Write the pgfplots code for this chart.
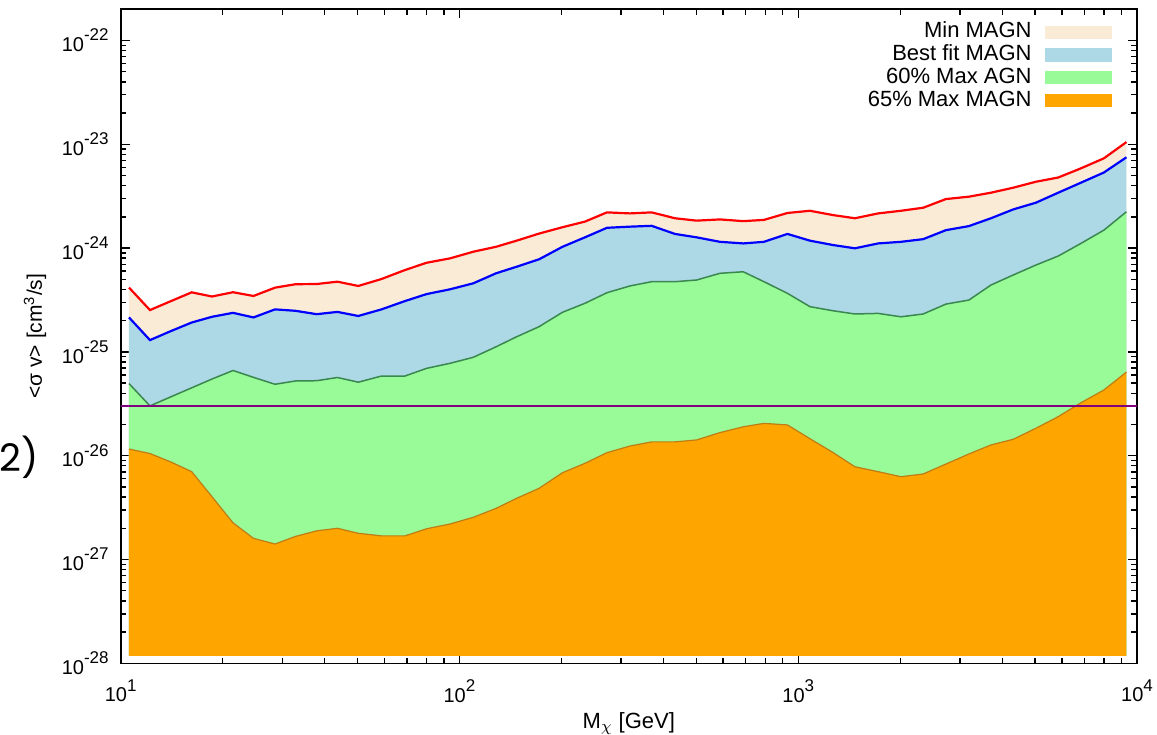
\documentclass[border=0pt]{standalone}
\usepackage{fontspec}
\setmainfont{Liberation Sans}
\newfontfamily\panelfont{Poppins}
\usepackage{pgfplots}
\pgfplotsset{compat=1.18}
\usepackage{pgfplotstable}

\definecolor{minfill}{RGB}{250,235,215}
\definecolor{bestfill}{RGB}{173,216,230}
\definecolor{sixtyfill}{RGB}{152,251,152}
\definecolor{sixtyfivefill}{RGB}{255,165,0}
\definecolor{sixtyedge}{RGB}{58,135,80}
\definecolor{sixtyfiveedge}{RGB}{190,125,20}
\definecolor{thermal}{RGB}{128,0,128}

% power-of-ten tick labels with a large raised exponent
\newcommand\decade[1]{10\raisebox{5.4pt}{\fontsize{8.5}{9}\selectfont #1}}

% upper edges of the four exclusion bands, <sigma v> in cm^3/s versus M_chi in GeV;
% first and last rows close each band on its floor
\pgfplotstableread{
m      red      blue     green    orange
10.58  1.18e-28 1.18e-28 1.18e-28 1.18e-28
10.58  4.17e-25 2.15e-25 4.96e-26 1.16e-26
12.20  2.53e-25 1.30e-25 3.02e-26 1.05e-26
14.08  3.09e-25 1.59e-25 3.70e-26 8.69e-27
16.20  3.75e-25 1.92e-25 4.51e-26 7.02e-27
18.60  3.42e-25 2.18e-25 5.48e-26 4.03e-27
21.45  3.76e-25 2.38e-25 6.62e-26 2.26e-27
24.66  3.46e-25 2.15e-25 5.69e-26 1.60e-27
28.54  4.16e-25 2.57e-25 4.88e-26 1.41e-27
32.81  4.49e-25 2.49e-25 5.25e-26 1.67e-27
37.88  4.51e-25 2.31e-25 5.28e-26 1.89e-27
43.63  4.75e-25 2.43e-25 5.67e-26 2.00e-27
50.27  4.32e-25 2.22e-25 5.11e-26 1.79e-27
58.86  5.04e-25 2.57e-25 5.86e-26 1.69e-27
69.03  6.15e-25 3.09e-25 5.86e-26 1.69e-27
80.01  7.23e-25 3.61e-25 6.95e-26 1.98e-27
93.76  7.97e-25 4.01e-25 7.77e-26 2.20e-27
109.8  9.23e-25 4.58e-25 8.87e-26 2.55e-27
128.2  1.03e-24 5.72e-25 1.12e-25 3.11e-27
147.5  1.18e-24 6.62e-25 1.40e-25 3.89e-27
171.7  1.38e-24 7.80e-25 1.75e-25 4.85e-27
201.4  1.59e-24 1.03e-24 2.41e-25 6.86e-27
234.6  1.80e-24 1.27e-24 2.94e-25 8.45e-27
272.5  2.21e-24 1.57e-24 3.72e-25 1.07e-26
318.6  2.16e-24 1.61e-24 4.32e-25 1.24e-26
369.3  2.21e-24 1.64e-24 4.75e-25 1.36e-26
432.6  1.94e-24 1.37e-24 4.75e-25 1.36e-26
501.3  1.84e-24 1.27e-24 4.93e-25 1.42e-26
587.4  1.89e-24 1.15e-24 5.72e-25 1.67e-26
688.2  1.82e-24 1.11e-24 5.92e-25 1.90e-26
792.0  1.87e-24 1.15e-24 4.75e-25 2.05e-26
929.2  2.18e-24 1.37e-24 3.67e-25 1.98e-26
1082.6 2.29e-24 1.18e-24 2.73e-25 1.46e-26
1268.5 2.08e-24 1.07e-24 2.49e-25 1.07e-26
1470   1.94e-24 9.96e-25 2.32e-25 7.83e-27
1722   2.16e-24 1.11e-24 2.35e-25 7.02e-27
2010   2.29e-24 1.15e-24 2.18e-25 6.28e-27
2338   2.45e-24 1.22e-24 2.32e-25 6.67e-27
2729   2.97e-24 1.49e-24 2.89e-25 8.32e-27
3190   3.13e-24 1.63e-24 3.16e-25 1.04e-26
3706   3.42e-24 1.94e-24 4.41e-25 1.27e-26
4311   3.82e-24 2.36e-24 5.51e-25 1.44e-26
5030   4.36e-24 2.74e-24 6.87e-25 1.84e-26
5854   4.79e-24 3.42e-24 8.39e-25 2.38e-26
6831   5.87e-24 4.27e-24 1.11e-24 3.24e-26
7985   7.33e-24 5.35e-24 1.49e-24 4.30e-26
9305   1.05e-23 7.50e-24 2.24e-24 6.40e-26
9305   1.18e-28 1.18e-28 1.18e-28 1.18e-28
}\bands

\begin{document}
\begin{tikzpicture}
\useasboundingbox (-60.35pt,-35.35pt) rectangle (518.15pt,331.65pt);
\begin{axis}[
  scale only axis, width=508.15pt, height=327.15pt,
  xmode=log, ymode=log,
  xmin=10, xmax=10000, ymin=1e-28, ymax=2.01e-22,
  xtick={10,100,1000,10000},
  xticklabels={\decade{1},\decade{2},\decade{3},\decade{4}},
  minor xtick={20,30,40,50,60,70,80,90,200,300,400,500,600,700,800,900,2000,3000,4000,5000,6000,7000,8000,9000},
  ytick={1e-28,1e-27,1e-26,1e-25,1e-24,1e-23,1e-22},
  yticklabels={\decade{-28},\decade{-27},\decade{-26},\decade{-25},\decade{-24},\decade{-23},\decade{-22}},
  minor ytick={2e-28,3e-28,4e-28,5e-28,6e-28,7e-28,8e-28,9e-28,
               2e-27,3e-27,4e-27,5e-27,6e-27,7e-27,8e-27,9e-27,
               2e-26,3e-26,4e-26,5e-26,6e-26,7e-26,8e-26,9e-26,
               2e-25,3e-25,4e-25,5e-25,6e-25,7e-25,8e-25,9e-25,
               2e-24,3e-24,4e-24,5e-24,6e-24,7e-24,8e-24,9e-24,
               2e-23,3e-23,4e-23,5e-23,6e-23,7e-23,8e-23,9e-23},
  major tick length=4.5pt, minor tick length=2.8pt,
  every tick/.style={black, line width=0.7pt},
  axis line style={line width=0.8pt},
  tick label style={font=\fontsize{10}{12}\selectfont},
  yticklabel style={xshift=-2.5pt},
  xticklabel style={yshift=-4.5pt},
  xlabel={M\textsubscript{$\chi$} [GeV]},
  ylabel={<σ v> [cm\textsuperscript{3}/s]},
  xlabel style={font=\fontsize{11}{13}\selectfont, at={(axis description cs:0.5,-0.092)}, anchor=center},
  ylabel style={font=\fontsize{10.5}{13}\selectfont, at={(axis description cs:-0.0843,0.5)}, anchor=center},
  legend plot pos=right,
  legend cell align=right,
  legend image code/.code={\fill[#1,draw=none] (0pt,-3.3pt) rectangle (33.5pt,3.3pt);},
  legend style={at={(1,1)}, anchor=north east, xshift=-12.5pt, yshift=-6.3pt,
    draw=none, fill=none, inner sep=0pt, row sep=1.3pt, column sep=6.5pt,
    font=\fontsize{11}{13}\selectfont,
    nodes={inner sep=0pt, text height=7.9pt, text depth=2.2pt}},
  band/.style={fill=#1, draw=none},
  edge/.style={skip coords between index={0}{1}, skip coords between index={47}{48}, forget plot},
]
\addplot[band=minfill] table[x=m, y=red] {\bands};
\addlegendentry{Min MAGN}
\addplot[band=bestfill] table[x=m, y=blue] {\bands};
\addlegendentry{Best fit MAGN}
\addplot[band=sixtyfill] table[x=m, y=green] {\bands};
\addlegendentry{60\% Max AGN}
\addplot[band=sixtyfivefill] table[x=m, y=orange] {\bands};
\addlegendentry{65\% Max MAGN}

% band edges
\addplot[edge, sixtyfiveedge, line width=0.6pt] table[x=m, y=orange] {\bands};
\addplot[edge, sixtyedge, line width=0.75pt] table[x=m, y=green] {\bands};
\addplot[edge, blue, line width=1.1pt] table[x=m, y=blue] {\bands};
\addplot[edge, red, line width=1.1pt] table[x=m, y=red] {\bands};

% thermal relic cross section
\addplot[thermal, line width=0.9pt, forget plot] coordinates {(10,3e-26) (10000,3e-26)};
\end{axis}
\node[font=\panelfont\fontsize{19}{22}\selectfont] at (-50.85pt,103.15pt) {2)};
\end{tikzpicture}
\end{document}
